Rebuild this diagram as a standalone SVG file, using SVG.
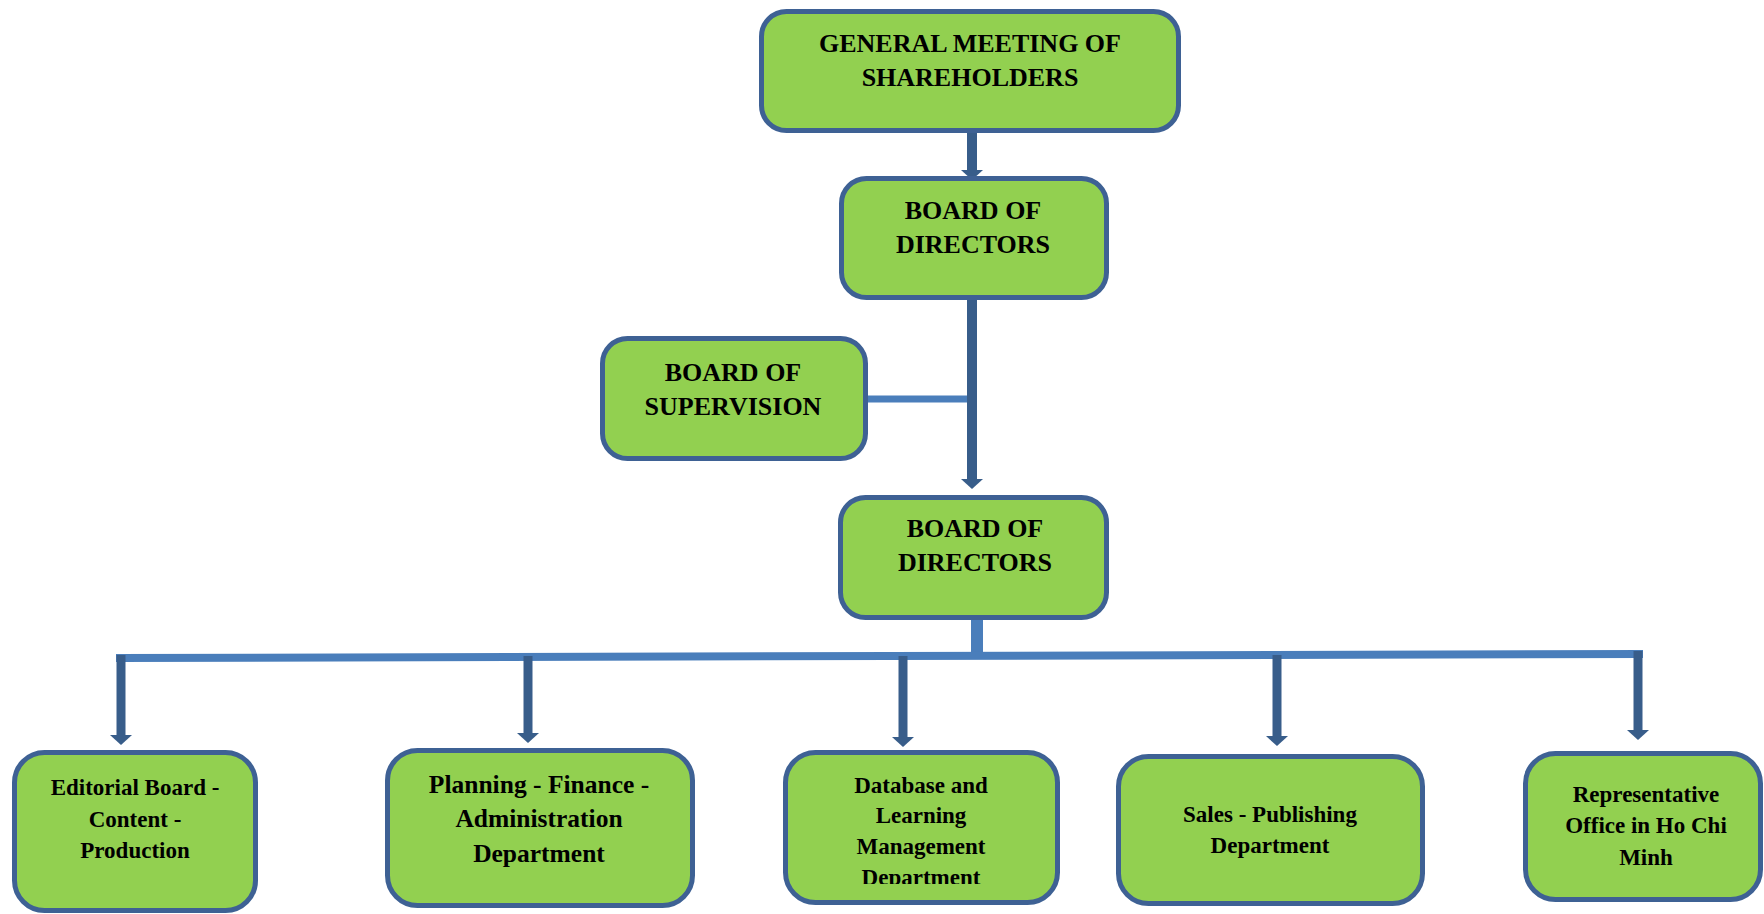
<svg xmlns="http://www.w3.org/2000/svg" width="1764" height="914" viewBox="0 0 1764 914">
<style>
.box{fill:#92D050;stroke:#3E6194;stroke-width:5}
.t{font-family:"Liberation Serif","Times New Roman",serif;font-weight:bold;fill:#000;text-anchor:middle}
.big{font-size:26px}
.sm{font-size:23px}
.md{font-size:25.5px}
.dark{stroke:#385D8A;fill:none}
.light{stroke:#4A7EBB;fill:none}
</style>
<defs>
<marker id="ah" markerUnits="userSpaceOnUse" viewBox="0 0 10 22" markerWidth="10" markerHeight="22" refX="0" refY="11" orient="auto">
<path d="M0,0 L10,11 L0,22 z" fill="#385D8A"/>
</marker>
<clipPath id="clip3"><rect x="783" y="750" width="280" height="134"/></clipPath>
</defs>
<g id="connectors">
<line class="dark" x1="972" y1="133" x2="972" y2="170" stroke-width="10" marker-end="url(#ah)"/>
<line class="dark" x1="972" y1="300" x2="972" y2="479" stroke-width="10" marker-end="url(#ah)"/>
<line class="light" x1="868" y1="399" x2="967" y2="399" stroke-width="7"/>
<line class="light" x1="977" y1="620" x2="977" y2="656" stroke-width="12"/>
<line class="light" x1="116" y1="658" x2="1643" y2="654" stroke-width="8"/>
<line class="dark" x1="121" y1="655" x2="121" y2="735" stroke-width="9" marker-end="url(#ah)"/>
<line class="dark" x1="528" y1="656" x2="528" y2="733" stroke-width="9" marker-end="url(#ah)"/>
<line class="dark" x1="903" y1="656" x2="903" y2="737" stroke-width="9" marker-end="url(#ah)"/>
<line class="dark" x1="1277" y1="655" x2="1277" y2="736" stroke-width="9" marker-end="url(#ah)"/>
<line class="dark" x1="1638" y1="651" x2="1638" y2="730" stroke-width="9" marker-end="url(#ah)"/>
</g>
<g id="gms">
<rect class="box" x="761.5" y="11.5" width="417" height="119" rx="25"/>
<text class="t big" x="970" y="52">GENERAL MEETING OF</text>
<text class="t big" x="970" y="86">SHAREHOLDERS</text>
</g>
<g id="bod1">
<rect class="box" x="841.5" y="178.5" width="265" height="119" rx="25"/>
<text class="t big" x="973" y="219">BOARD OF</text>
<text class="t big" x="973" y="253">DIRECTORS</text>
</g>
<g id="bos">
<rect class="box" x="602.5" y="338.5" width="263" height="120" rx="25"/>
<text class="t big" x="733" y="381">BOARD OF</text>
<text class="t big" x="733" y="415">SUPERVISION</text>
</g>
<g id="bod2">
<rect class="box" x="840.5" y="497.5" width="266" height="120" rx="25"/>
<text class="t big" x="975" y="537">BOARD OF</text>
<text class="t big" x="975" y="571">DIRECTORS</text>
</g>
<g id="editorial">
<rect class="box" x="14.5" y="752.5" width="241" height="158" rx="30"/>
<text class="t sm" x="135" y="795">Editorial Board -</text>
<text class="t sm" x="135" y="827">Content -</text>
<text class="t sm" x="135" y="858">Production</text>
</g>
<g id="planning">
<rect class="box" x="387.5" y="750.5" width="305" height="155" rx="30"/>
<text class="t md" x="539" y="793">Planning - Finance -</text>
<text class="t md" x="539" y="827">Administration</text>
<text class="t md" x="539" y="862">Department</text>
</g>
<g id="database">
<rect class="box" x="785.5" y="752.5" width="272" height="150" rx="30"/>
<g clip-path="url(#clip3)">
<text class="t sm" x="921" y="793">Database and</text>
<text class="t sm" x="921" y="823">Learning</text>
<text class="t sm" x="921" y="854">Management</text>
<text class="t sm" x="921" y="885">Department</text>
</g>
</g>
<g id="sales">
<rect class="box" x="1118.5" y="756.5" width="304" height="147" rx="30"/>
<text class="t sm" x="1270" y="822">Sales - Publishing</text>
<text class="t sm" x="1270" y="853">Department</text>
</g>
<g id="repoffice">
<rect class="box" x="1525.5" y="753.5" width="235" height="146" rx="30"/>
<text class="t sm" x="1646" y="802">Representative</text>
<text class="t sm" x="1646" y="833">Office in Ho Chi</text>
<text class="t sm" x="1646" y="865">Minh</text>
</g>
</svg>
